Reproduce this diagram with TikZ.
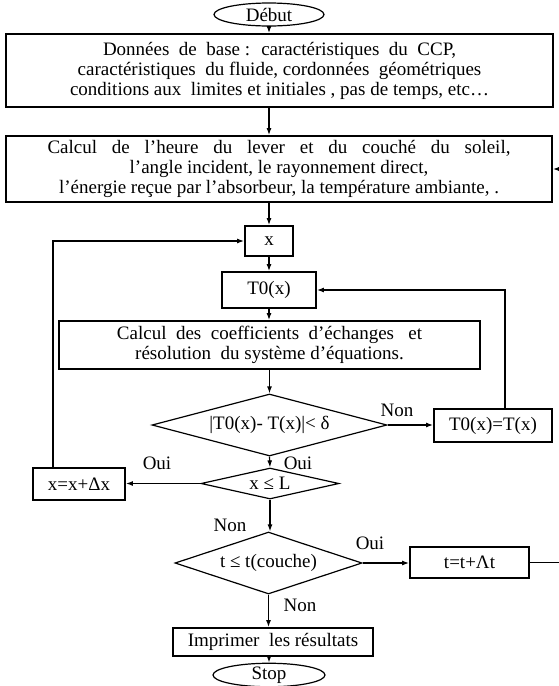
\documentclass[tikz,border=0pt]{standalone}
\usepackage{fontspec}
\setmainfont{Liberation Serif}
\usetikzlibrary{shapes.geometric,arrows.meta}
\tikzset{
    boite/.style = {draw, line width = 1.8, inner sep = 0, align = center},
    test/.style = {draw, diamond, line width = 1.2, inner sep = 0},
    borne/.style = {draw, ellipse, line width = 1.2, inner sep = 0},
    etiq/.style = {inner sep = 0},
    fleche/.style = {-{Latex[length = 7pt, width = 5pt]}, line width = 1.2}
}

\begin{document}
\begin{tikzpicture}[x = 1pt, y = -1pt, font = \fontsize{19}{20}\selectfont]
        \useasboundingbox (0,0) rectangle (559,686);
        \node[borne, minimum width = 110, minimum height = 23] (debut) at (269,14.5) {Début};
        \node[boite, minimum width = 547, minimum height = 73] (donnees) at (279.5,70.5)
            {Données \ de \ base : \ caractéristiques \ du \ CCP,\\
             caractéristiques \ du fluide, cordonnées \ géométriques\\
             conditions aux \ limites et initiales , pas de temps, etc…};
        \node[boite, minimum width = 546, minimum height = 66] (soleil) at (279,169)
            {\makebox[463pt][s]{Calcul de l’heure du lever et du couché du soleil,}\\
             l’angle incident, le rayonnement direct,\\
             l'énergie reçue par l’absorbeur, la température ambiante, .};
        \node[boite, minimum width = 48, minimum height = 30] (xpos) at (269,241) {x};
        \node[boite, minimum width = 94, minimum height = 36] (tzero) at (269,290) {T0(x)};
        \node[boite, minimum width = 421, minimum height = 48] (coeffs) at (269.5,345)
            {Calcul \ des \ coefficients \ d’échanges \ \ et\\ résolution \ du système d’équations.};
        \node[test, minimum width = 235, minimum height = 62, shape aspect = 3.8] (conv) at (269.5,425) {|T0(x)- T(x)|< δ};
        \node[boite, minimum width = 118, minimum height = 33] (tmaj) at (493,425.5) {T0(x)=T(x)};
        \node[test, minimum width = 138, minimum height = 31, shape aspect = 4.4] (xfin) at (270,483.5) {x ≤ L};
        \node[boite, minimum width = 92, minimum height = 32] (xinc) at (79,484) {x=x+Δx};
        \node[test, minimum width = 187, minimum height = 62, shape aspect = 3] (tfin) at (268.5,563) {t ≤ t(couche)};
        \node[boite, minimum width = 119, minimum height = 31] (tinc) at (469.5,562.5) {t=t+Λt};
        \node[boite, minimum width = 200, minimum height = 28] (imprimer) at (273,642) {Imprimer \ les résultats};
        \node[borne, minimum width = 112, minimum height = 21] (stop) at (269,675) {Stop};

        \node[etiq] (non1) at (397,410) {Non};
        \node[etiq] (oui1) at (298,463) {Oui};
        \node[etiq] (oui2) at (157,463) {Oui};
        \node[etiq] (non2) at (230,525) {Non};
        \node[etiq] (oui3) at (370,543) {Oui};
        \node[etiq] (non3) at (300,605) {Non};

        \draw[fleche] (debut) -- (debut |- donnees.north);
        \draw[fleche] (debut |- donnees.south) -- (debut |- soleil.north);
        \draw[fleche] (xpos |- soleil.south) -- (xpos);
        \draw[fleche] (xpos) -- (tzero);
        \draw[fleche] (tzero) -- (tzero |- coeffs.north);
        \draw[fleche] (conv.north |- coeffs.south) -- (conv.north);
        \draw[fleche] (conv.east) -- (conv.east -| tmaj.west);
        \draw[fleche] (tmaj.north) ++(12,0) |- (tzero.east);
        \draw[fleche] (conv.south) -- (xfin.north);
        \draw[fleche] (xfin.west) -- (xfin.west -| xinc.east);
        \draw[fleche] (xinc.north) ++(-26,0) |- (xpos.west);
        \draw[fleche] (xfin.south) -- (xfin.south |- tfin.north);
        \draw[fleche] (tfin.east) -- (tfin.east -| tinc.west);
        \draw[fleche] (tinc.east) -- ++(32,0) |- (soleil.east);
        \draw[fleche] (tfin.south) -- (tfin.south |- imprimer.north);
        \draw[fleche] (imprimer.south -| stop.north) -- (stop.north);
    \end{tikzpicture}
\end{document}
